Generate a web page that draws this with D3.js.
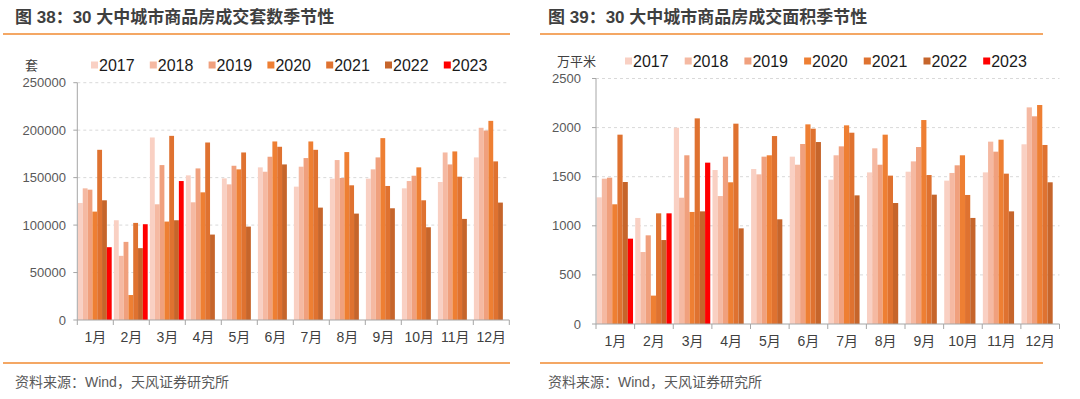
<!DOCTYPE html>
<html>
<head>
<meta charset="utf-8">
<script src="https://cdn.jsdelivr.net/npm/d3@7"></script>
<style>
  body { margin: 0; background: #fff; }
  svg { display: block; font-family: "Liberation Sans", Arial, "Noto Sans CJK SC", sans-serif; }
</style>
</head>
<body>
<svg width="1080" height="399"></svg>
<script>
// categories
const months = ["1月", "2月", "3月", "4月", "5月", "6月", "7月", "8月", "9月", "10月", "11月", "12月"];
const years = ["2017", "2018", "2019", "2020", "2021", "2022", "2023"];
const colors = ["#F9D0C3", "#F5B9A2", "#F0A07D", "#EE7F33", "#DF7230", "#C6652B", "#FF0000"];

// 套数, one array per year (2023 only Jan-Mar)
const units2017 = [123300, 105100, 192300, 152400, 149200, 160800, 140500, 148900, 148900, 138700, 145400, 171300];
const units2018 = [138700, 67600, 121900, 124000, 142900, 156200, 161500, 168500, 158700, 146400, 176500, 202500];
const units2019 = [137300, 82300, 163200, 159700, 162500, 172000, 170600, 149600, 171300, 152000, 163900, 199600];
const units2020 = [114200, 26300, 103700, 134500, 158700, 188100, 188100, 176900, 191600, 160800, 177600, 209800];
const units2021 = [179300, 102300, 194000, 187000, 176500, 182500, 179300, 141900, 141200, 126100, 151000, 167100];
const units2022 = [126100, 75700, 105100, 90000, 98400, 163900, 118400, 112100, 117700, 97700, 106500, 123700];
const units2023 = [76700, 100900, 146400];

// 面积 (万平米)
const area2017 = [1290, 1080, 1999, 1568, 1578, 1704, 1470, 1544, 1551, 1460, 1544, 1830];
const area2018 = [1480, 733, 1286, 1303, 1524, 1622, 1718, 1789, 1656, 1538, 1857, 2206];
const area2019 = [1490, 903, 1718, 1704, 1704, 1833, 1809, 1622, 1802, 1616, 1755, 2115];
const area2020 = [1219, 289, 1141, 1443, 1718, 2033, 2023, 1928, 2077, 1718, 1877, 2230];
const area2021 = [1928, 1127, 2094, 2040, 1914, 1989, 1948, 1511, 1517, 1314, 1531, 1823];
const area2022 = [1446, 855, 1147, 974, 1066, 1853, 1310, 1232, 1317, 1080, 1147, 1443];
const area2023 = [869, 1127, 1643];

const unitTicks = [0, 50000, 100000, 150000, 200000, 250000];
const areaTicks = [0, 500, 1000, 1500, 2000, 2500];

const svg = d3.select("svg");

function drawChart(opt) {
  const g = svg.append("g");

  // title + orange rules
  g.append("text")
    .attr("x", opt.titleX).attr("y", 23)
    .attr("font-size", 17).attr("font-weight", "bold")
    .attr("fill", "#3F3F3F")
    .text(opt.title);
  g.append("line")
    .attr("x1", opt.ruleX[0]).attr("x2", opt.ruleX[1])
    .attr("y1", 34).attr("y2", 34)
    .attr("stroke", "#F08A30").attr("stroke-width", 1.5);
  g.append("line")
    .attr("x1", opt.ruleX[0]).attr("x2", opt.ruleX[1])
    .attr("y1", 363).attr("y2", 363)
    .attr("stroke", "#F08A30").attr("stroke-width", 1.5);
  g.append("text")
    .attr("x", opt.titleX).attr("y", 387)
    .attr("font-size", 14).attr("fill", "#595959")
    .text("资料来源：Wind，天风证券研究所");

  const x0 = d3.scaleBand().domain(months).range(opt.xRange);
  const x1 = d3.scaleBand().domain(years).range([0.6, x0.bandwidth() - 1.6]);
  const y = d3.scaleLinear().domain([0, opt.ticks[opt.ticks.length - 1]]).range(opt.yRange);

  // gridlines
  g.selectAll(".grid")
    .data(opt.ticks.slice(1))
    .enter().append("line")
    .attr("x1", opt.xRange[0]).attr("x2", opt.xRange[1])
    .attr("y1", d => y(d)).attr("y2", d => y(d))
    .attr("stroke", "#D9D9D9").attr("stroke-dasharray", "3,3");

  // y tick labels
  g.selectAll(".ylab")
    .data(opt.ticks)
    .enter().append("text")
    .attr("x", opt.yLabelX).attr("y", d => y(d) + 4.5)
    .attr("text-anchor", "end")
    .attr("font-size", 13).attr("fill", "#595959")
    .text(d => d);

  // bars
  const groups = g.selectAll(".month")
    .data(months)
    .enter().append("g")
    .attr("transform", d => "translate(" + x0(d) + ",0)");
  groups.selectAll("rect")
    .data((m, mi) => opt.series.map((s, si) => ({ year: years[si], value: s[mi], color: colors[si] }))
      .filter(d => d.value !== undefined))
    .enter().append("rect")
    .attr("x", d => x1(d.year))
    .attr("width", x1.bandwidth())
    .attr("y", d => y(d.value))
    .attr("height", d => y(0) - y(d.value))
    .attr("fill", d => d.color);

  // axes lines
  g.append("line")
    .attr("x1", opt.xRange[0]).attr("x2", opt.xRange[0])
    .attr("y1", opt.yRange[1]).attr("y2", opt.yRange[0])
    .attr("stroke", "#A6A6A6");
  g.append("line")
    .attr("x1", opt.xRange[0]).attr("x2", opt.xRange[1])
    .attr("y1", opt.yRange[0]).attr("y2", opt.yRange[0])
    .attr("stroke", "#A6A6A6");
  g.selectAll(".ytick")
    .data(opt.ticks)
    .enter().append("line")
    .attr("x1", opt.xRange[0] - 4).attr("x2", opt.xRange[0])
    .attr("y1", d => y(d)).attr("y2", d => y(d))
    .attr("stroke", "#A6A6A6");
  const edges = months.map(m => x0(m)).concat([opt.xRange[1]]);
  g.selectAll(".xtick")
    .data(edges)
    .enter().append("line")
    .attr("x1", d => d).attr("x2", d => d)
    .attr("y1", opt.yRange[0]).attr("y2", opt.yRange[0] + 5)
    .attr("stroke", "#A6A6A6");
  g.selectAll(".xlab")
    .data(months)
    .enter().append("text")
    .attr("x", d => x0(d) + x0.bandwidth() / 2)
    .attr("y", opt.yRange[0] + 22)
    .attr("text-anchor", "middle")
    .attr("font-size", 14).attr("fill", "#404040")
    .text(d => d);

  // unit label
  g.append("text")
    .attr("x", opt.unitX).attr("y", opt.legendY + 5)
    .attr("font-size", 13).attr("fill", "#404040")
    .text(opt.unit);

  // legend
  const leg = g.selectAll(".leg")
    .data(years)
    .enter().append("g")
    .attr("transform", (d, i) => "translate(" + (opt.legendX + i * opt.legendStep) + "," + opt.legendY + ")");
  leg.append("rect")
    .attr("x", 0).attr("y", -3.5)
    .attr("width", 7).attr("height", 7)
    .attr("fill", (d, i) => colors[i]);
  leg.append("text")
    .attr("x", 8).attr("y", 6)
    .attr("font-size", 16).attr("fill", "#1A1A1A")
    .text(d => d);
}

drawChart({
  title: "图 38：30 大中城市商品房成交套数季节性",
  titleX: 15,
  ruleX: [3, 510],
  xRange: [77.3, 509.3],
  yRange: [320, 82.7],
  ticks: unitTicks,
  yLabelX: 66,
  unit: "套",
  unitX: 25,
  legendX: 91,
  legendStep: 58.8,
  legendY: 65,
  series: [units2017, units2018, units2019, units2020, units2021, units2022, units2023]
});

drawChart({
  title: "图 39：30 大中城市商品房成交面积季节性",
  titleX: 548,
  ruleX: [540, 1043],
  xRange: [596, 1059.5],
  yRange: [324, 78.5],
  ticks: areaTicks,
  yLabelX: 581,
  unit: "万平米",
  unitX: 557,
  legendX: 625,
  legendStep: 59.7,
  legendY: 61,
  series: [area2017, area2018, area2019, area2020, area2021, area2022, area2023]
});
</script>
</body>
</html>
